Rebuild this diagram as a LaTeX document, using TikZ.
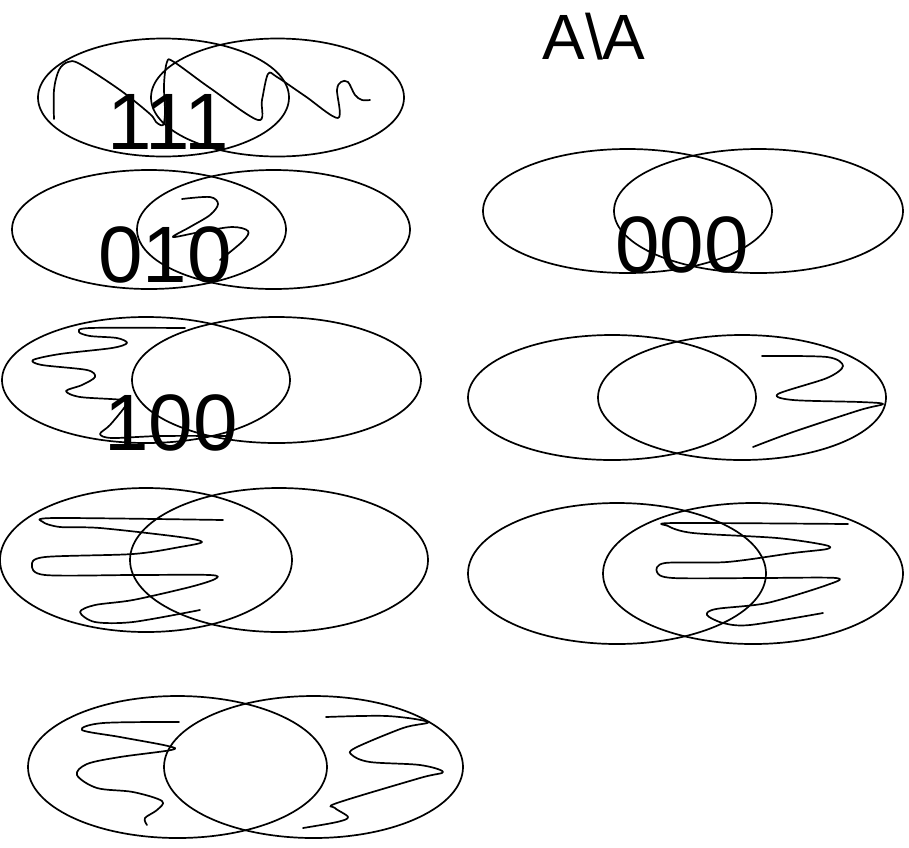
\documentclass[tikz,border=0pt]{standalone}
\usepackage{fontspec}
\setmainfont{Liberation Sans}
\begin{document}
\begin{tikzpicture}[x=1pt,y=-1pt,
  venn/.style={line width=1.7pt},
  scrib/.style={line width=1.7pt,line cap=round,line join=round},
  code/.style={inner sep=0pt,anchor=base,font=\fontsize{80}{80}\selectfont},
  title/.style={inner sep=0pt,anchor=base,font=\fontsize{64}{64}\selectfont}]
\useasboundingbox (0,0) rectangle (909,847);

% left column of Venn pairs
\draw[venn] (163.5,97.5) ellipse [x radius=125.5,y radius=59];
\draw[venn] (277.5,97.5) ellipse [x radius=126.5,y radius=59];
\draw[venn] (149,229.5) ellipse [x radius=137,y radius=59.5];
\draw[venn] (273.5,229.5) ellipse [x radius=136.5,y radius=59.5];
\draw[venn] (146,380) ellipse [x radius=144,y radius=63];
\draw[venn] (276.5,380) ellipse [x radius=144.5,y radius=63];
\draw[venn] (146,560) ellipse [x radius=146,y radius=72];
\draw[venn] (279,560) ellipse [x radius=149,y radius=72];
\draw[venn] (177.5,767) ellipse [x radius=149.5,y radius=71];
\draw[venn] (313.5,767) ellipse [x radius=149.5,y radius=71];

% right column of Venn pairs
\draw[venn] (627.5,211) ellipse [x radius=144.5,y radius=62];
\draw[venn] (758.5,211) ellipse [x radius=144.5,y radius=62];
\draw[venn] (612,397.5) ellipse [x radius=144,y radius=62.5];
\draw[venn] (742,397.5) ellipse [x radius=144,y radius=62.5];
\draw[venn] (617,573.5) ellipse [x radius=149,y radius=70.5];
\draw[venn] (753,573.5) ellipse [x radius=150,y radius=70.5];

% hand-drawn shading strokes
\draw[scrib] plot[smooth,tension=0.55] coordinates {
  (54,119) (54,90) (59,70) (68,62) (80,64) (120,90) (150,114) (156,122)
  (163,125) (165,112) (164,85) (167,62) (174,62) (210,88) (258,120)
  (262,100) (268,74) (277,77) (305,96) (338,118) (337,90) (341,82)
  (348,82) (355,95) (362,100) (370,100)};
\draw[scrib] plot[smooth,tension=0.55] coordinates {
  (182,199) (210,197) (218,204) (210,215) (190,227) (173,237)
  (200,232) (232,227) (248,231) (243,241) (220,260)};
\draw[scrib] plot[smooth,tension=0.5] coordinates {
  (185,328) (90,328) (79,332) (90,336) (117,338) (127,343) (112,348)
  (60,354) (33,360) (42,365) (87,370) (95,377) (82,385) (66,391)
  (80,397) (123,400) (126,405) (110,425) (100,434) (112,438) (160,436)
  (228,436)};
\draw[scrib] plot[smooth,tension=0.5] coordinates {
  (223,520) (55,518) (43,522) (60,527) (100,528) (180,537) (202,542)
  (180,547) (133,554) (45,557) (32,565) (45,575) (133,575) (210,575)
  (215,579) (190,587) (133,600) (95,605) (80,612) (95,622) (133,622)
  (200,610)};
\draw[scrib] plot[smooth,tension=0.5] coordinates {
  (762,356) (827,357) (843,366) (827,378) (778,394) (793,400) (860,402)
  (883,404) (860,410) (793,432) (753,447)};
\draw[scrib] plot[smooth,tension=0.5] coordinates {
  (848,524) (675,523) (668,526) (693,533) (777,538) (825,545) (827,549)
  (793,553) (727,562) (665,563) (657,572) (673,578) (760,578) (836,578)
  (827,585) (767,603) (716,609) (707,615) (723,623) (750,625) (823,613)};
\draw[scrib] plot[smooth,tension=0.55] coordinates {
  (179,722) (103,723) (82,730) (120,737) (168,746) (171,750) (120,757)
  (87,764) (77,775) (97,788) (133,792) (162,801) (157,810) (145,818)
  (147,825)};
\draw[scrib] plot[smooth,tension=0.55] coordinates {
  (326,717) (387,716) (428,722) (403,728) (355,748) (352,755) (370,762)
  (420,765) (443,772) (420,778) (337,803) (335,808) (348,817) (337,822)
  (303,828)};

% labels
\node[title] (tA) at (594,59) {A\textbackslash A};
\node[code] (t111) at (168,149) {111};
\node[code] (t010) at (165,282) {010};
\node[code] (t100) at (171,450) {100};
\node[code] (t000) at (682,272) {000};
\end{tikzpicture}
\end{document}
